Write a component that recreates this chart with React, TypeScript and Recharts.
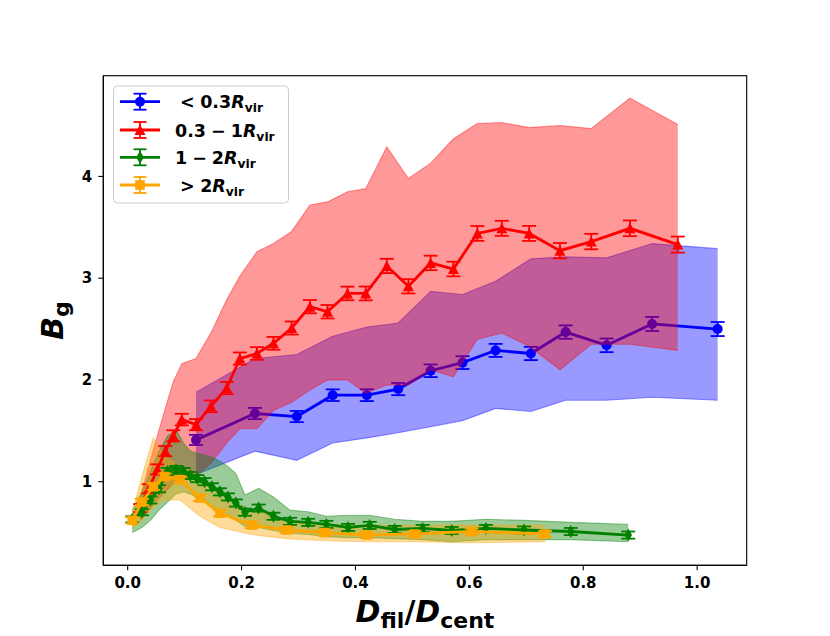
import React from 'react';
import { ComposedChart, Area, Line, Scatter, XAxis, YAxis, ErrorBar } from 'recharts';

// ---- data ----
const blueX = [0.120, 0.2235, 0.297, 0.360, 0.420, 0.475, 0.532, 0.588, 0.646, 0.708, 0.769, 0.841, 0.921, 1.036];
const blueY = [1.41, 1.67, 1.64, 1.85, 1.85, 1.91, 2.09, 2.17, 2.29, 2.26, 2.47, 2.34, 2.55, 2.50];
const blueErr = [0.05, 0.055, 0.055, 0.057, 0.058, 0.06, 0.062, 0.063, 0.064, 0.065, 0.066, 0.067, 0.069, 0.069];
const blueLo = [1.07, 1.30, 1.21, 1.38, 1.43, 1.48, 1.54, 1.60, 1.72, 1.69, 1.80, 1.80, 1.83, 1.80];
const blueHi = [1.88, 2.21, 2.25, 2.43, 2.52, 2.56, 2.87, 2.84, 2.97, 3.19, 3.21, 3.20, 3.34, 3.29];

const redX = [0.022, 0.037, 0.052, 0.066, 0.080, 0.095, 0.120, 0.146, 0.174, 0.197, 0.227, 0.256, 0.288, 0.320, 0.351, 0.386, 0.418, 0.455, 0.493, 0.532, 0.572, 0.614, 0.657, 0.705, 0.759, 0.814, 0.882, 0.966];
const redY = [0.74, 0.93, 1.12, 1.30, 1.45, 1.61, 1.56, 1.74, 1.92, 2.21, 2.26, 2.36, 2.51, 2.72, 2.67, 2.85, 2.85, 3.12, 2.92, 3.15, 3.09, 3.44, 3.49, 3.44, 3.27, 3.36, 3.49, 3.33];
const redErr = [0.04, 0.045, 0.05, 0.05, 0.055, 0.057, 0.055, 0.058, 0.06, 0.06, 0.062, 0.063, 0.064, 0.065, 0.066, 0.067, 0.068, 0.07, 0.07, 0.071, 0.072, 0.073, 0.074, 0.074, 0.075, 0.076, 0.077, 0.079];
const redLo = [0.62, 0.72, 0.82, 0.90, 0.98, 1.02, 1.06, 1.18, 1.38, 1.52, 1.52, 1.70, 1.78, 1.90, 2.00, 2.00, 1.87, 1.95, 1.95, 2.10, 2.03, 2.40, 2.46, 2.33, 2.10, 2.35, 2.35, 2.29];
const redHi = [0.85, 1.15, 1.45, 1.72, 1.98, 2.16, 2.21, 2.46, 2.79, 3.02, 3.26, 3.34, 3.46, 3.72, 3.75, 3.85, 3.88, 4.29, 3.98, 4.13, 4.37, 4.52, 4.53, 4.48, 4.50, 4.47, 4.77, 4.51];

const greenX = [0.008, 0.025, 0.040, 0.055, 0.070, 0.085, 0.098, 0.110, 0.122, 0.135, 0.148, 0.162, 0.176, 0.190, 0.206, 0.230, 0.256, 0.285, 0.317, 0.349, 0.387, 0.425, 0.469, 0.518, 0.569, 0.629, 0.696, 0.778, 0.879];
const greenY = [0.63, 0.70, 0.82, 0.93, 1.10, 1.12, 1.10, 1.06, 1.03, 1.00, 0.95, 0.90, 0.85, 0.79, 0.70, 0.74, 0.66, 0.61, 0.60, 0.58, 0.55, 0.57, 0.53, 0.54, 0.52, 0.54, 0.525, 0.51, 0.475];
const greenErr = [0.03, 0.03, 0.035, 0.035, 0.035, 0.035, 0.035, 0.035, 0.035, 0.035, 0.035, 0.035, 0.035, 0.035, 0.035, 0.035, 0.035, 0.035, 0.035, 0.035, 0.035, 0.035, 0.035, 0.035, 0.035, 0.035, 0.035, 0.035, 0.035];
const greenLo = [0.50, 0.55, 0.62, 0.72, 0.80, 0.88, 0.90, 0.88, 0.84, 0.80, 0.76, 0.72, 0.68, 0.62, 0.56, 0.55, 0.52, 0.49, 0.48, 0.46, 0.45, 0.45, 0.44, 0.43, 0.41, 0.43, 0.43, 0.43, 0.41];
const greenHi = [0.72, 0.90, 1.10, 1.30, 1.45, 1.51, 1.38, 1.30, 1.28, 1.26, 1.24, 1.20, 1.15, 1.08, 0.87, 0.935, 0.85, 0.72, 0.705, 0.66, 0.67, 0.67, 0.63, 0.61, 0.61, 0.63, 0.62, 0.60, 0.58];

const orangeX = [0.008, 0.025, 0.045, 0.065, 0.092, 0.127, 0.162, 0.218, 0.279, 0.346, 0.420, 0.504, 0.604, 0.733];
const orangeY = [0.62, 0.80, 0.95, 1.05, 1.02, 0.84, 0.69, 0.574, 0.525, 0.50, 0.476, 0.486, 0.51, 0.486];
const orangeErr = [0.03, 0.03, 0.03, 0.03, 0.03, 0.03, 0.03, 0.03, 0.03, 0.03, 0.03, 0.03, 0.03, 0.03];
const orangeLo = [0.54, 0.62, 0.75, 0.82, 0.82, 0.66, 0.55, 0.48, 0.44, 0.42, 0.41, 0.41, 0.40, 0.41];
const orangeHi = [0.70, 1.05, 1.43, 1.25, 1.15, 1.05, 0.85, 0.72, 0.62, 0.58, 0.57, 0.57, 0.575, 0.57];

const xTicks = [0, 0.2, 0.4, 0.6, 0.8, 1.0];
const yTicks = [1, 2, 3, 4];

// legend label parts: [before operator, operator, after operator]
const legendLabels = [
  { a: '', op: '<', b: '0.3', x: 180 },
  { a: '0.3', op: '\u2212', b: '1', x: 175 },
  { a: '1', op: '\u2212', b: '2', x: 175 },
  { a: '', op: '>', b: '2', x: 180 },
];

// ---- layout constants ----
const W = 830;
const H = 636;
const L = 103.3;
const R = 746.7;
const T = 75.7;
const B = 565.3;
const FONT = 'DejaVu Sans';

const BLUE = '#0000ff';
const RED = '#ff0000';
const GREEN = '#008000';
const ORANGE = '#ffa500';

function build(x: number[], y: number[], e: number[], lo: number[], hi: number[]) {
  return x.map((v, i) => ({ x: v, y: y[i], err: e[i], band: [lo[i], hi[i]] }));
}

const blueData = build(blueX, blueY, blueErr, blueLo, blueHi);
const redData = build(redX, redY, redErr, redLo, redHi);
const greenData = build(greenX, greenY, greenErr, greenLo, greenHi);
const orangeData = build(orangeX, orangeY, orangeErr, orangeLo, orangeHi);

type Kind = 'circle' | 'tri' | 'thin' | 'square';

function Marker({ kind, cx, cy, color }: { kind: Kind; cx: number; cy: number; color: string }) {
  if (kind === 'circle') return <circle cx={cx} cy={cy} r={5} fill={color} />;
  if (kind === 'tri')
    return <polygon points={`${cx},${cy - 5.5} ${cx - 5.5},${cy + 5} ${cx + 5.5},${cy + 5}`} fill={color} />;
  if (kind === 'thin')
    return <polygon points={`${cx},${cy - 6.5} ${cx + 3.8},${cy} ${cx},${cy + 6.5} ${cx - 3.8},${cy}`} fill={color} />;
  return <rect x={cx - 4.8} y={cy - 4.8} width={9.6} height={9.6} fill={color} />;
}

function makeShape(kind: Kind, color: string) {
  return (props: any) => {
    const { cx, cy } = props;
    if (cx == null || cy == null) return <g />;
    return <Marker kind={kind} cx={cx} cy={cy} color={color} />;
  };
}

// areaZ / lineZ give the drawing order (blue drawn completely first, then the other bands, then their lines)
const series = [
  { data: blueData, color: BLUE, kind: 'circle' as Kind, id: 'blue', areaZ: 200, lineZ: 201 },
  { data: redData, color: RED, kind: 'tri' as Kind, id: 'red', areaZ: 210, lineZ: 220 },
  { data: greenData, color: GREEN, kind: 'thin' as Kind, id: 'green', areaZ: 211, lineZ: 230 },
  { data: orangeData, color: ORANGE, kind: 'square' as Kind, id: 'orange', areaZ: 212, lineZ: 240 },
];

const tickStyle = { fontFamily: FONT, fontWeight: 'bold' as const, fontSize: 15, fill: '#000' };

export default function App() {
  const items: React.ReactNode[] = [];
  series.forEach((s) => {
    items.push(
      <Area
        key={`a-${s.id}`}
        data={s.data}
        dataKey="band"
        type="linear"
        fill={s.color}
        fillOpacity={0.4}
        stroke={s.color}
        strokeOpacity={0.4}
        strokeWidth={1.1}
        isAnimationActive={false}
        activeDot={false}
        dot={false}
        {...({ zIndex: s.areaZ } as any)}
      />
    );
    items.push(
      <Line
        key={`l-${s.id}`}
        data={s.data}
        dataKey="y"
        type="linear"
        stroke={s.color}
        strokeWidth={2.8}
        dot={false}
        activeDot={false}
        isAnimationActive={false}
        {...({ zIndex: s.lineZ } as any)}
      >
        <ErrorBar
          dataKey="err"
          width={7}
          strokeWidth={1.8}
          stroke={s.color}
          direction="y"
          {...({ zIndex: s.lineZ + 1 } as any)}
        />
      </Line>
    );
    items.push(
      <Scatter
        key={`s-${s.id}`}
        data={s.data}
        dataKey="y"
        shape={makeShape(s.kind, s.color)}
        isAnimationActive={false}
        {...({ zIndex: s.lineZ + 2 } as any)}
      />
    );
  });

  const rowY = [101.7, 130, 157.3, 185];

  return (
    <div style={{ position: 'absolute', left: 0, top: 0, width: W, height: H, background: '#fff' }}>
      <ComposedChart
        width={W}
        height={H}
        margin={{ top: T, right: W - R, bottom: 0, left: 0 }}
      >
        <XAxis
          type="number"
          dataKey="x"
          domain={[-0.0428, 1.087]}
          ticks={xTicks}
          allowDataOverflow
          height={H - B}
          tickFormatter={(v: number) => v.toFixed(1)}
          tick={tickStyle}
          tickSize={5}
          tickMargin={7}
          axisLine={{ stroke: '#000', strokeWidth: 1.1 }}
          tickLine={{ stroke: '#000', strokeWidth: 1.1 }}
        />
        <YAxis
          type="number"
          domain={[0.178, 4.99]}
          ticks={yTicks}
          allowDataOverflow
          width={L}
          tick={tickStyle}
          tickSize={5}
          tickMargin={6}
          axisLine={{ stroke: '#000', strokeWidth: 1.1 }}
          tickLine={{ stroke: '#000', strokeWidth: 1.1 }}
        />
        {items}
      </ComposedChart>
      <svg
        width={W}
        height={H}
        style={{ position: 'absolute', left: 0, top: 0, pointerEvents: 'none' }}
      >
        <rect x={L} y={T} width={R - L} height={B - T} fill="none" stroke="#000" strokeWidth={1.1} />
        {/* legend */}
        <rect x={113.5} y={86} width={175} height={117} rx={4} fill="#fff" fillOpacity={0.8} stroke="#cccccc" strokeWidth={1} />
        {series.map((s, i) => {
          const y = rowY[i];
          const lab = legendLabels[i];
          return (
            <g key={`lg-${s.id}`}>
              <line x1={120} x2={160} y1={y} y2={y} stroke={s.color} strokeWidth={2.8} />
              <line x1={140} x2={140} y1={y - 8} y2={y + 8} stroke={s.color} strokeWidth={1.8} />
              <line x1={133.5} x2={146.5} y1={y - 8} y2={y - 8} stroke={s.color} strokeWidth={1.8} />
              <line x1={133.5} x2={146.5} y1={y + 8} y2={y + 8} stroke={s.color} strokeWidth={1.8} />
              <Marker kind={s.kind} cx={140} cy={y} color={s.color} />
              <text x={lab.x} y={y + 6.6} fontFamily={FONT} fontWeight="bold" fontSize={17.5} fill="#000">
                {lab.a}
                <tspan dx={lab.a ? 5 : 0}>{lab.op}</tspan>
                <tspan dx={lab.a ? 5 : 5.5}>{lab.b}</tspan>
                <tspan fontStyle="italic">R</tspan>
                <tspan fontSize={12.3} dy={4}>vir</tspan>
              </text>
            </g>
          );
        })}
        {/* axis labels */}
        <text x={(L + R) / 2} y={622} textAnchor="middle" fontFamily={FONT} fontWeight="bold" fontSize={30} fill="#000">
          <tspan fontStyle="italic">D</tspan>
          <tspan fontSize={22} dy={6}>fil</tspan>
          <tspan dy={-6}>/</tspan>
          <tspan fontStyle="italic">D</tspan>
          <tspan fontSize={22} dy={6}>cent</tspan>
        </text>
        <text
          transform={`translate(63, ${(T + B) / 2}) rotate(-90)`}
          textAnchor="middle"
          fontFamily={FONT}
          fontWeight="bold"
          fontSize={30}
          fill="#000"
        >
          <tspan fontStyle="italic">B</tspan>
          <tspan fontSize={22} dy={6}>g</tspan>
        </text>
      </svg>
    </div>
  );
}
